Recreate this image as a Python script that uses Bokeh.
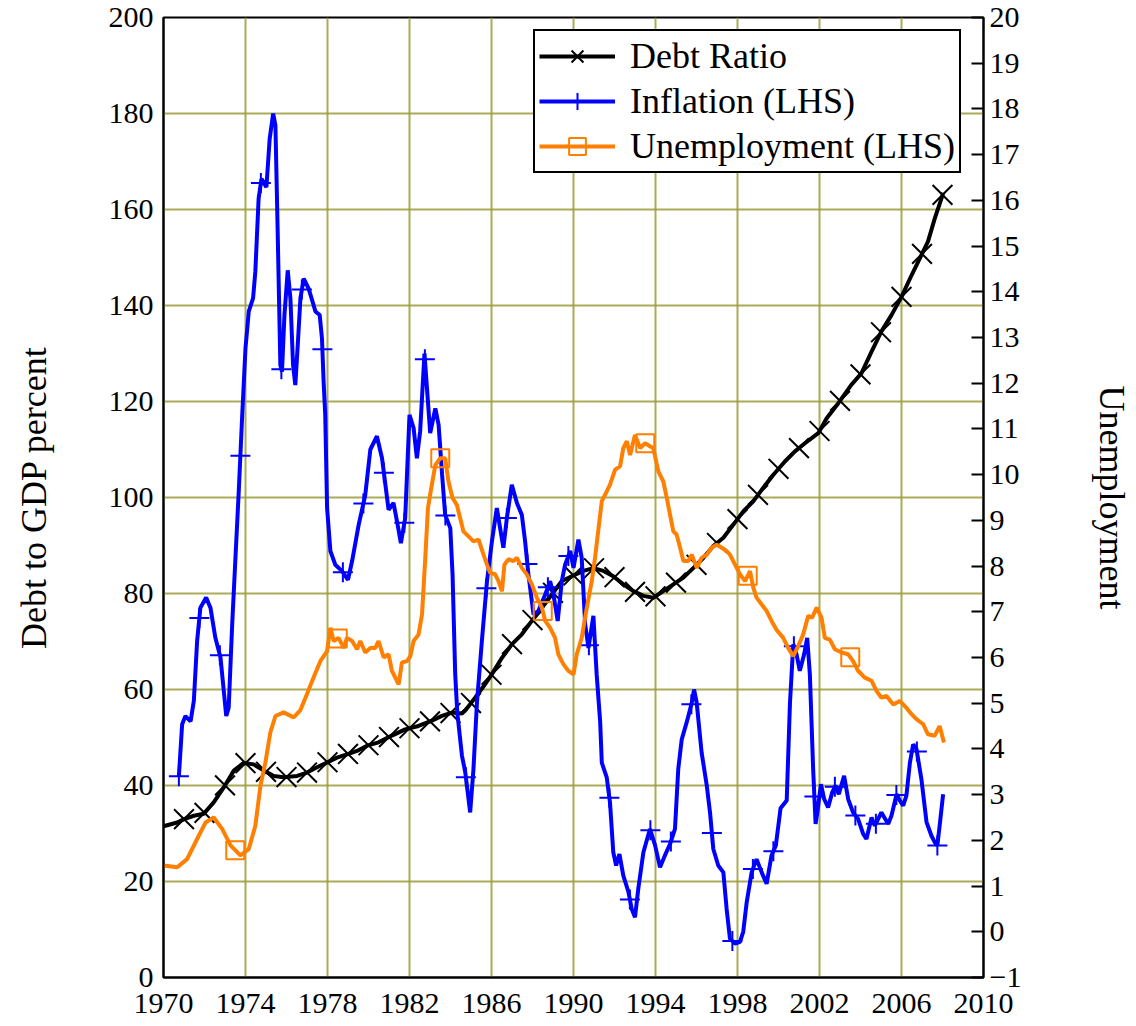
import numpy as np
from bokeh.plotting import figure
from bokeh.models import Range1d, LinearAxis, FixedTicker, Legend, LegendItem
from bokeh.embed import file_html
from bokeh.resources import INLINE

# ---------------- data ----------------
debt_year = [1970.0, 1970.67, 1971.0, 1971.48, 1971.96, 1972.45, 1972.94, 1973.43, 1973.91, 1974.4,
             1974.89, 1975.38, 1975.86, 1976.52, 1977.0, 1977.49, 1977.98, 1978.46, 1978.95, 1979.44,
             1979.93, 1980.49, 1981.14, 1981.79, 1982.44, 1983.09, 1983.58, 1984.07, 1984.56, 1984.72,
             1985.2, 1985.69, 1986.02, 1986.51, 1986.99, 1987.48, 1987.97, 1988.46, 1988.94, 1989.43,
             1989.92, 1990.48, 1990.97, 1991.46, 1991.94, 1992.43, 1992.92, 1993.41, 1993.89, 1994.38,
             1994.87, 1995.36, 1995.84, 1996.33, 1996.82, 1997.31, 1997.79, 1998.28, 1998.77, 1999.25,
             1999.74, 2000.31, 2000.8, 2001.29, 2001.94, 2002.35, 2002.91, 2003.56, 2004.05, 2004.54,
             2005.02, 2005.51, 2006.0, 2006.49, 2006.97, 2007.29, 2007.62, 2007.95, 2008.03]
debt_ratio = [31.5, 32.3, 33.0, 33.7, 34.1, 36.5, 39.6, 43.1, 44.7, 44.4,
              43.1, 42.0, 41.7, 42.0, 42.7, 43.8, 44.8, 45.8, 46.5, 47.2,
              48.3, 49.0, 50.4, 51.7, 52.4, 53.5, 54.5, 55.2, 55.0, 55.6,
              58.3, 61.1, 63.2, 66.6, 69.4, 71.5, 74.3, 77.0, 79.8, 82.6,
              83.6, 84.7, 85.3, 84.7, 83.6, 81.9, 80.5, 79.5, 79.1, 80.5,
              81.9, 83.3, 85.3, 87.4, 89.9, 91.6, 94.3, 97.1, 99.2, 102.0,
              104.7, 107.5, 109.6, 111.3, 113.4, 116.5, 119.6, 123.5, 125.9, 130.4,
              134.6, 138.0, 141.8, 146.3, 150.5, 153.3, 158.1, 162.3, 163.5]

infl_year = [1970.75, 1970.91, 1971.07, 1971.32, 1971.48, 1971.64, 1971.80, 1972.08, 1972.29, 1972.53,
             1972.78, 1972.94, 1973.06, 1973.18, 1973.35, 1973.51, 1973.67, 1973.84, 1974.0, 1974.16,
             1974.37, 1974.48, 1974.64, 1974.78, 1975.02, 1975.18, 1975.35, 1975.46, 1975.57, 1975.70,
             1975.78, 1975.90, 1976.06, 1976.19, 1976.32, 1976.43, 1976.54, 1976.68, 1976.84, 1977.08,
             1977.32, 1977.41, 1977.62, 1977.73, 1977.81, 1977.89, 1977.98, 1978.14, 1978.38, 1978.71,
             1979.0, 1979.2, 1979.52, 1979.84, 1980.09, 1980.41, 1980.66, 1980.98, 1981.22, 1981.39,
             1981.58, 1981.79, 1982.0, 1982.20, 1982.36, 1982.52, 1982.73, 1983.01, 1983.26, 1983.42,
             1983.59, 1983.74, 1983.99, 1984.1, 1984.23, 1984.33, 1984.56, 1984.72, 1984.96, 1985.12,
             1985.29, 1985.53, 1985.78, 1986.02, 1986.26, 1986.42, 1986.58, 1986.75, 1986.99, 1987.24,
             1987.48, 1987.64, 1987.80, 1988.05, 1988.29, 1988.62, 1988.86, 1989.02, 1989.23, 1989.43,
             1989.59, 1989.84, 1990.0, 1990.24, 1990.40, 1990.57, 1990.73, 1990.97, 1991.13, 1991.30,
             1991.38, 1991.62, 1991.78, 1991.94, 1992.08, 1992.24, 1992.43, 1992.68, 1992.84, 1993.0,
             1993.16, 1993.41, 1993.73, 1993.98, 1994.22, 1994.46, 1994.71, 1994.95, 1995.11, 1995.28,
             1995.52, 1995.77, 1995.88, 1996.01, 1996.25, 1996.5, 1996.66, 1996.82, 1997.06, 1997.31,
             1997.47, 1997.63, 1997.88, 1998.12, 1998.28, 1998.45, 1998.69, 1998.93, 1999.18, 1999.42,
             1999.66, 1999.87, 2000.1, 2000.4, 2000.56, 2000.72, 2000.88, 2001.04, 2001.25, 2001.40,
             2001.53, 2001.61, 2001.69, 2001.81, 2001.94, 2002.07, 2002.23, 2002.42, 2002.62, 2002.78,
             2002.94, 2003.20, 2003.40, 2003.64, 2003.88, 2004.13, 2004.29, 2004.54, 2004.70, 2005.02,
             2005.35, 2005.51, 2005.76, 2005.92, 2006.08, 2006.24, 2006.41, 2006.57, 2006.73, 2006.97,
             2007.22, 2007.46, 2007.62, 2007.75, 2007.86, 2008.03]
inflation = [3.4, 4.54, 4.72, 4.6, 5.05, 6.36, 7.09, 7.31, 7.09, 6.43,
             6.0, 5.27, 4.72, 4.9, 6.72, 8.18, 9.63, 11.3, 12.77, 13.57,
             13.86, 14.44, 16.04, 16.47, 16.29, 17.35, 17.9, 17.64, 15.31, 12.4,
             12.25, 13.49, 14.47, 13.86, 12.4, 11.96, 12.77, 13.86, 14.29, 14.07,
             13.71, 13.57, 13.49, 12.98, 12.04, 11.3, 9.27, 8.33, 8.03, 7.89,
             7.7, 8.11, 8.9, 9.55, 10.55, 10.84, 10.36, 9.23, 9.38, 8.98,
             8.5, 9.05, 11.31, 11.02, 10.36, 10.95, 12.65, 10.91, 11.45, 11.09,
             10.0, 9.12, 8.83, 7.82, 5.63, 4.8, 3.85, 3.49, 2.61, 3.56,
             5.01, 6.36, 7.67, 8.54, 9.27, 8.83, 8.4, 9.05, 9.78, 9.38,
             9.12, 8.54, 7.82, 6.94, 7.02, 7.38, 7.67, 7.38, 6.8, 7.67,
             8.03, 8.33, 7.96, 8.58, 8.18, 6.72, 6.21, 6.91, 5.63, 4.6,
             3.7, 3.38, 2.83, 1.74, 1.45, 1.7, 1.23, 0.87, 0.5, 0.32,
             0.94, 1.74, 2.25, 1.89, 1.41, 1.67, 1.92, 2.25, 3.56, 4.21,
             4.58, 5.01, 5.3, 5.01, 3.92, 3.2, 2.61, 1.81, 1.45, 1.3,
             0.5, -0.15, -0.26, -0.22, 0.0, 0.65, 1.3, 1.59, 1.3, 1.05,
             1.67, 1.89, 2.7, 2.87, 5.01, 6.29, 6.07, 5.71, 6.07, 6.43,
             5.63, 4.6, 3.56, 2.36, 2.76, 3.23, 2.9, 2.72, 3.05, 3.2,
             3.01, 3.41, 2.9, 2.61, 2.47, 2.14, 2.03, 2.5, 2.32, 2.61,
             2.36, 2.54, 3.01, 2.87, 2.76, 2.98, 3.7, 4.1, 4.0, 3.34,
             2.4, 2.1, 1.96, 1.89, 2.32, 3.01]

unemp_year = [1970.0, 1970.67, 1971.15, 1971.64, 1972.05, 1972.45, 1972.86, 1973.27, 1973.75, 1974.16,
              1974.48, 1974.73, 1974.97, 1975.21, 1975.46, 1975.86, 1976.35, 1976.68, 1977.0, 1977.32,
              1977.65, 1977.98, 1978.14, 1978.3, 1978.54, 1978.79, 1978.95, 1979.2, 1979.44, 1979.6,
              1979.84, 1980.09, 1980.33, 1980.49, 1980.74, 1980.98, 1981.14, 1981.47, 1981.63, 1981.88,
              1982.04, 1982.2, 1982.44, 1982.61, 1982.77, 1982.9, 1983.09, 1983.26, 1983.5, 1983.74,
              1983.9, 1984.1, 1984.31, 1984.47, 1984.63, 1984.88, 1985.12, 1985.37, 1985.61, 1985.78,
              1985.94, 1986.18, 1986.34, 1986.51, 1986.63, 1986.83, 1987.07, 1987.24, 1987.48, 1987.72,
              1987.97, 1988.21, 1988.46, 1988.62, 1988.86, 1989.1, 1989.26, 1989.51, 1989.75, 1990.0,
              1990.16, 1990.4, 1990.65, 1990.89, 1991.05, 1991.3, 1991.38, 1991.54, 1991.78, 1992.03,
              1992.27, 1992.43, 1992.6, 1992.76, 1993.0, 1993.25, 1993.49, 1993.73, 1993.89, 1994.14,
              1994.38, 1994.55, 1994.71, 1994.87, 1995.03, 1995.2, 1995.36, 1995.6, 1995.77, 1996.01,
              1996.25, 1996.5, 1996.74, 1996.98, 1997.23, 1997.47, 1997.63, 1997.88, 1998.12, 1998.37,
              1998.61, 1998.77, 1998.93, 1999.18, 1999.42, 1999.66, 1999.91, 2000.23, 2000.47, 2000.72,
              2000.96, 2001.2, 2001.45, 2001.64, 2001.86, 2002.1, 2002.26, 2002.5, 2002.75, 2003.08,
              2003.4, 2003.64, 2003.88, 2004.21, 2004.54, 2004.78, 2005.02, 2005.27, 2005.6, 2005.92,
              2006.24, 2006.49, 2006.73, 2007.06, 2007.29, 2007.62, 2007.86, 2008.07]
unemployment = [1.45, 1.41, 1.59, 2.03, 2.39, 2.5, 2.25, 1.89, 1.67, 1.81,
                2.32, 3.2, 3.7, 4.36, 4.72, 4.8, 4.69, 4.85, 5.2, 5.56,
                5.92, 6.14, 6.65, 6.36, 6.43, 6.21, 6.43, 6.36, 6.18, 6.36,
                6.11, 6.21, 6.21, 6.36, 6.0, 6.07, 5.71, 5.41, 5.89, 5.92,
                6.03, 6.36, 6.5, 6.94, 8.18, 9.27, 9.78, 10.21, 10.36, 10.36,
                9.85, 9.49, 9.34, 9.05, 8.76, 8.65, 8.54, 8.58, 8.25, 8.03,
                7.85, 7.82, 7.67, 7.45, 8.03, 8.15, 8.11, 8.18, 7.96, 7.82,
                7.6, 7.31, 7.09, 6.8, 6.65, 6.43, 6.07, 5.85, 5.71, 5.63,
                6.07, 6.43, 7.09, 7.67, 8.18, 9.12, 9.42, 9.56, 9.78, 10.11,
                10.18, 10.58, 10.73, 10.43, 10.87, 10.58, 10.69, 10.62, 10.58, 10.07,
                9.85, 9.49, 9.12, 8.76, 8.69, 8.4, 8.11, 8.11, 8.25, 7.96,
                8.18, 8.25, 8.4, 8.47, 8.4, 8.33, 8.25, 8.03, 7.82, 7.67,
                7.89, 7.53, 7.31, 7.16, 7.02, 6.8, 6.6, 6.43, 6.21, 6.03,
                6.25, 6.5, 6.91, 6.87, 7.09, 6.87, 6.43, 6.39, 6.18, 6.11,
                6.07, 5.92, 5.71, 5.56, 5.49, 5.27, 5.12, 5.16, 4.97, 5.05,
                4.9, 4.76, 4.65, 4.54, 4.32, 4.29, 4.5, 4.14]

x_ticks = [1970, 1974, 1978, 1982, 1986, 1990, 1994, 1998, 2002, 2006, 2010]
left_ticks = [0, 20, 40, 60, 80, 100, 120, 140, 160, 180, 200]
right_ticks = list(range(-1, 21))

# marker positions along each line (one marker per year / per 5 years)
debt_mark_x = np.arange(1971.0, 2008.01, 1.0)
infl_mark_x = np.arange(1970.75, 2007.76, 1.0)
unemp_mark_x = np.arange(1973.5, 2003.51, 5.0)
debt_mark_y = np.interp(debt_mark_x, debt_year, debt_ratio)
infl_mark_y = np.interp(infl_mark_x, infl_year, inflation)
unemp_mark_y = np.interp(unemp_mark_x, unemp_year, unemployment)

FONT = "Liberation Serif"
GRID = "#9c9c3c"

p = figure(frame_width=820, frame_height=960, output_backend="svg", toolbar_location=None,
           x_range=Range1d(1970, 2010), y_range=Range1d(0, 200),
           min_border_left=163, min_border_right=153, min_border_top=17, min_border_bottom=49)
p.extra_y_ranges = {"rhs": Range1d(-1, 20)}
p.background_fill_color = "white"
p.border_fill_color = "white"
p.outline_line_color = "black"
p.outline_line_width = 2

p.xaxis.ticker = FixedTicker(ticks=x_ticks)
p.yaxis.ticker = FixedTicker(ticks=left_ticks)
p.yaxis.axis_label = "Debt to GDP percent"
p.xgrid.ticker = FixedTicker(ticks=x_ticks)
p.ygrid.ticker = FixedTicker(ticks=left_ticks)
for g in (p.xgrid, p.ygrid):
    g.grid_line_color = GRID
    g.grid_line_width = 2
    g.grid_line_alpha = 0.85

right = LinearAxis(y_range_name="rhs", ticker=FixedTicker(ticks=right_ticks), axis_label="Unemployment")
p.add_layout(right, "right")

for ax in (p.xaxis[0], p.yaxis[0], right):
    ax.axis_line_color = "black"
    ax.axis_line_width = 2
    ax.minor_tick_line_color = None
    ax.major_label_text_font = FONT
    ax.major_label_text_font_size = "30px"
    ax.major_label_text_color = "black"
    ax.axis_label_text_font = FONT
    ax.axis_label_text_font_size = "36px"
    ax.axis_label_text_font_style = "normal"
    ax.axis_label_text_color = "black"

for ax in (p.xaxis[0], p.yaxis[0]):
    ax.major_tick_line_color = None
    ax.major_tick_in = 0
    ax.major_tick_out = 0
p.xaxis[0].major_label_standoff = 16
p.yaxis[0].major_label_standoff = 10
p.yaxis[0].axis_label_standoff = 52

right.major_tick_in = 12
right.major_tick_out = 0
right.major_tick_line_width = 2
right.major_tick_line_color = "black"
right.major_label_standoff = 6
right.axis_label_standoff = 68

LW = 4
debt_line = p.line(debt_year, debt_ratio, line_color="black", line_width=LW)
debt_pts = p.scatter(debt_mark_x, debt_mark_y, marker="x", size=28, line_color="black", line_width=2)
infl_line = p.line(infl_year, inflation, line_color="#0000ff", line_width=LW, y_range_name="rhs")
infl_pts = p.scatter(infl_mark_x, infl_mark_y, marker="cross", size=20, line_color="#0000ff",
                     line_width=2, y_range_name="rhs")
unemp_line = p.line(unemp_year, unemployment, line_color="#ff7f00", line_width=LW, y_range_name="rhs")
unemp_pts = p.scatter(unemp_mark_x, unemp_mark_y, marker="square", size=18, line_color="#ff7f00",
                      fill_color=None, line_width=2, y_range_name="rhs")

legend = Legend(items=[
    LegendItem(label="Debt Ratio", renderers=[debt_line, debt_pts]),
    LegendItem(label="Inflation (LHS)", renderers=[infl_line, infl_pts]),
    LegendItem(label="Unemployment (LHS)", renderers=[unemp_line, unemp_pts]),
], location=(370, 804))
legend.label_text_font = FONT
legend.label_text_font_size = "36px"
legend.label_text_color = "black"
legend.border_line_color = "black"
legend.border_line_width = 2
legend.border_line_alpha = 1.0
legend.background_fill_color = "white"
legend.background_fill_alpha = 1.0
legend.glyph_width = 76
legend.glyph_height = 42
legend.label_height = 42
legend.label_standoff = 15
legend.spacing = 3
legend.padding = 4
legend.margin = 0
p.add_layout(legend)

open("out.html", "w").write(file_html(p, INLINE))
